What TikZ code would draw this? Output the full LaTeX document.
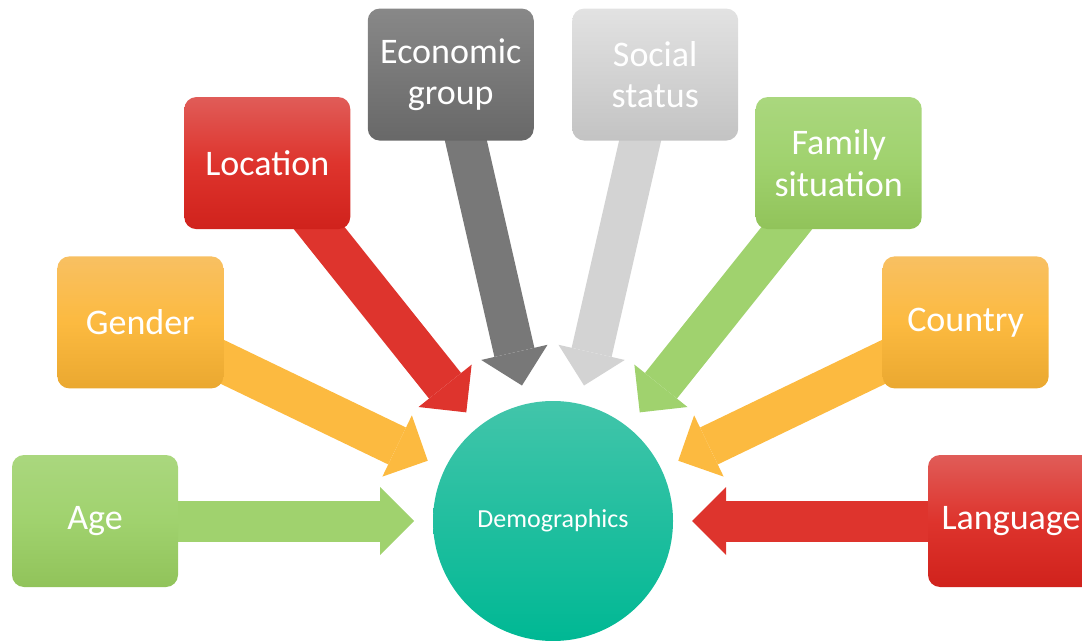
\documentclass[tikz,border=0pt]{standalone}
\usepackage{fontspec}
\setmainfont{Carlito}
\usepackage{tikz}
\usetikzlibrary{calc,arrows.meta,backgrounds}

\definecolor{greenT}{RGB}{170,215,126}
\definecolor{greenM}{RGB}{160,210,110}
\definecolor{greenB}{RGB}{145,195,90}
\definecolor{orangeT}{RGB}{248,192,98}
\definecolor{orangeM}{RGB}{252,186,64}
\definecolor{orangeB}{RGB}{234,168,48}
\definecolor{redT}{RGB}{224,92,88}
\definecolor{redM}{RGB}{222,52,45}
\definecolor{redB}{RGB}{208,34,28}
\definecolor{darkT}{RGB}{136,136,136}
\definecolor{darkB}{RGB}{104,104,104}
\definecolor{lightT}{RGB}{226,226,226}
\definecolor{lightB}{RGB}{195,195,195}
\definecolor{tealT}{RGB}{66,197,170}
\definecolor{tealB}{RGB}{0,184,148}

\begin{document}
\begin{tikzpicture}[
				x=0.75pt, y=0.75pt,
				box/.style={rectangle, rounded corners=9pt, minimum width=124.5pt, minimum height=99pt, inner sep=2pt, align=center, text=white, font=\fontsize{27}{31}\selectfont},
				greenbox/.style={box, top color=greenT, bottom color=greenB, middle color=greenM},
				orangebox/.style={box, top color=orangeT, bottom color=orangeB, middle color=orangeM},
				redbox/.style={box, top color=redT, bottom color=redB, middle color=redM},
				darkbox/.style={box, top color=darkT, bottom color=darkB},
				lightbox/.style={box, top color=lightT, bottom color=lightB},
				feed/.style={line width=30.75pt, -{Triangle[width=51pt, length=25.5pt, line width=0pt]}, shorten >=14.25pt}
				]
				\useasboundingbox (0,0) rectangle (1082,640);
				\clip (0,0) rectangle (1082,640);
				
				\node[circle, minimum size=180pt, inner sep=0pt, outer sep=0pt, top color=tealT, bottom color=tealB, text=white, font=\fontsize{19.5}{22}\selectfont] (demo) at (553,119) {Demographics};
				
				\node[greenbox] (age) at ($(demo)+(180:458)$) {Age};
				\node[orangebox] (gender) at ($(demo)+(154.3:458)$) {Gender};
				\node[redbox] (location) at ($(demo)+(128.6:458)$) {Location};
				\node[darkbox] (economic) at ($(demo)+(102.9:458)$) {Economic\\group};
				\node[lightbox] (social) at ($(demo)+(77.1:458)$) {Social\\status};
				\node[greenbox] (family) at ($(demo)+(51.4:458)$) {Family\\situation};
				\node[orangebox] (country) at ($(demo)+(25.7:458)$) {Country};
				\node[redbox] (language) at ($(demo)+(0:458)$) {Language};
				
				\begin{pgfonlayer}{background}
				\draw[feed, greenM] (age.center) -- (demo);
				\draw[feed, orangeM] (gender.center) -- (demo);
				\draw[feed, redM] (location.center) -- (demo);
				\draw[feed, darkT!50!darkB] (economic.center) -- (demo);
				\draw[feed, lightT!50!lightB] (social.center) -- (demo);
				\draw[feed, greenM] (family.center) -- (demo);
				\draw[feed, orangeM] (country.center) -- (demo);
				\draw[feed, redM] (language.center) -- (demo);
				\end{pgfonlayer}
			\end{tikzpicture}
\end{document}
